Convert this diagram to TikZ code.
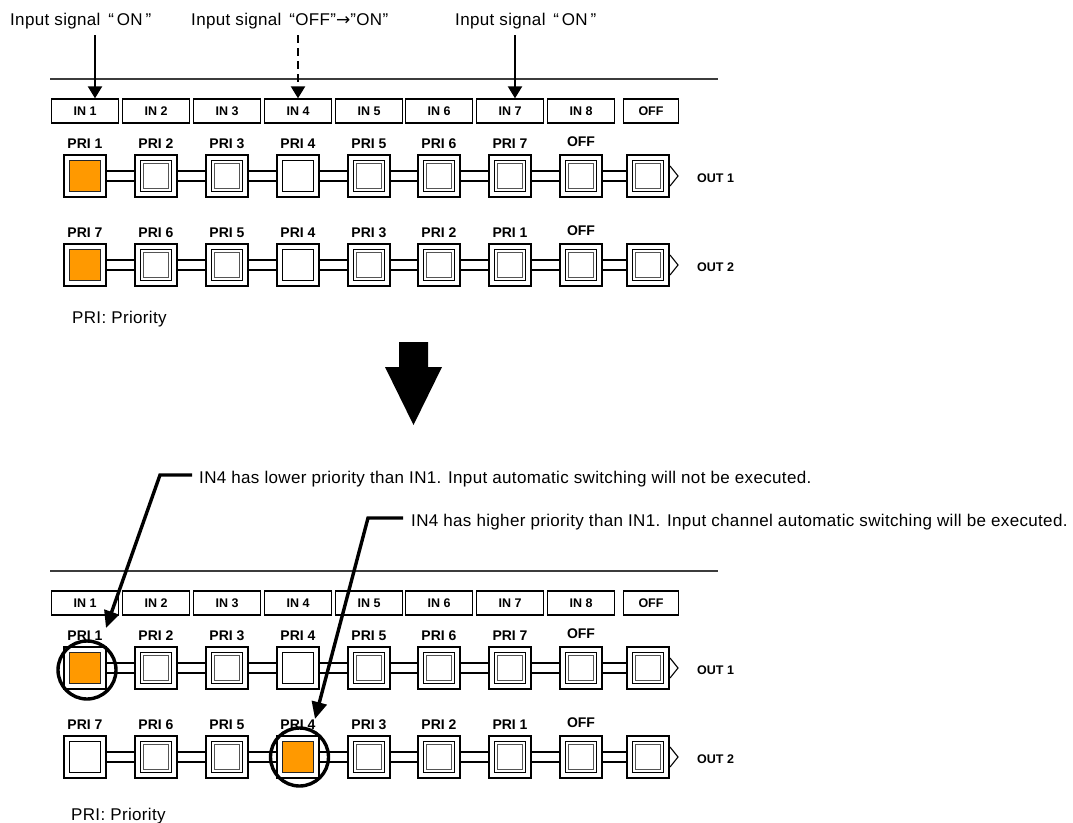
\documentclass[tikz,border=0pt]{standalone}
\usepackage{fontspec}
\setmainfont{Liberation Sans}[LetterSpace=2]
\newfontfamily\lblfont{Liberation Sans}
\newfontfamily\symfont{DejaVu Sans}
\usetikzlibrary{arrows.meta}
\definecolor{lit}{RGB}{255,153,0}
\definecolor{bevel}{RGB}{85,85,85}
\definecolor{rail}{RGB}{60,60,60}
\begin{document}
\begin{tikzpicture}[x=1pt,y=-1pt,
  txt/.style={font=\fontsize{17}{20}\selectfont, inner sep=0pt, anchor=base west},
  inbox/.style={draw, line width=1.3pt, minimum width=67pt, minimum height=24pt, inner sep=0pt,
    font=\lblfont\bfseries\fontsize{12.5}{14}\selectfont},
  btn/.style={draw, line width=2pt, fill=white, minimum size=42pt, inner sep=0pt},
  lampP/.style={draw, line width=1.2pt, fill=white, minimum size=31pt, inner sep=0pt},
  lampO/.style={draw=black!85, line width=1.5pt, fill=lit, minimum size=31pt, inner sep=0pt},
  lampN/.style={lampP, path picture={\draw[bevel, line width=1.8pt]
      ([shift={(3pt,3pt)}]path picture bounding box.south west) rectangle
      ([shift={(-3pt,-3pt)}]path picture bounding box.north east);}},
  prilbl/.style={inner sep=0pt, font=\lblfont\bfseries\fontsize{14}{16}\selectfont},
  outlbl/.style={inner sep=0pt, anchor=west, font=\lblfont\bfseries\fontsize{12.5}{14}\selectfont},
  barline/.style={line width=1.2pt},
  railline/.style={draw=rail, line width=1.5pt},
  sig/.style={line width=2.2pt, -{Triangle[length=12pt,width=14pt]}},
  leader/.style={line width=3.4pt, line join=miter, -{Triangle[length=17pt,width=15pt]}},
  ring/.style={circle, draw, line width=3.4pt, minimum size=58pt, inner sep=0pt}
]
\useasboundingbox (0,0) rectangle (1073,822);

% top annotations
\node[txt] (t-on1) at (10,25) {Input signal \,“\,ON\,”};
\node[txt] (t-off) at (191,25) {Input signal \,“OFF”{\symfont\fontsize{17}{20}\selectfont →}"ON”};
\node[txt] (t-on2) at (455,25) {Input signal \,“\,ON\,”};

\foreach \s/\dy in {0/0,1/492}{
  \draw[railline] (50,{79+\dy}) -- (718,{79+\dy});
  \foreach \x [count=\i] in {85,156,227,298,369,439,510,581}{
    \node[inbox] (in-\s-\i) at (\x,{111+\dy}) {IN \i};
  }
  \node[inbox, minimum width=55pt] (in-\s-off) at (651,{111+\dy}) {OFF};
  \foreach \r/\ry in {1/176,2/265}{
    \pgfmathtruncatemacro\yy{\ry+\dy}
    \ifnum\s\r=12 \def\lo{4}\def\lp{1}\else\def\lo{1}\def\lp{4}\fi
    \foreach \x [count=\i] in {85,156,227,298,369,439,510,581,648}{
      \node[btn] (b-\s-\r-\i) at (\x,\yy) {};
      \ifnum\i=\lo \node[lampO] (l-\s-\r-\i) at (b-\s-\r-\i.center) {};
      \else\ifnum\i=\lp \node[lampP] (l-\s-\r-\i) at (b-\s-\r-\i.center) {};
      \else \node[lampN] (l-\s-\r-\i) at (b-\s-\r-\i.center) {};
      \fi\fi
      \ifnum\i<8
        \pgfmathtruncatemacro\n{\r==1 ? \i : 8-\i}
        \node[prilbl] (p-\s-\r-\i) at ([yshift=32pt]b-\s-\r-\i.center) {PRI \n};
      \fi
    }
    \node[prilbl] (p-\s-\r-8) at ([yshift=34pt]b-\s-\r-8.center) {OFF};
    \foreach \i [evaluate=\i as \j using int(\i+1)] in {1,...,8}{
      \draw[barline] ([yshift=5pt]b-\s-\r-\i.east) -- ([yshift=5pt]b-\s-\r-\j.west);
      \draw[barline] ([yshift=-5pt]b-\s-\r-\i.east) -- ([yshift=-5pt]b-\s-\r-\j.west);
    }
    \draw[line width=1.1pt] ([yshift=10pt]b-\s-\r-9.east) -- ([xshift=8pt]b-\s-\r-9.east)
      -- ([yshift=-10pt]b-\s-\r-9.east);
    \node[outlbl] (out-\s-\r) at (697,{\yy+2}) {OUT \r};
  }
}

\node[txt] (pri-0) at (72,323) {PRI: Priority};
\node[txt] (pri-1) at (71,820) {PRI: Priority};

% input signal arrows
\coordinate (s1) at (95,35);
\coordinate (s2) at (298,35);
\coordinate (s3) at (515,35);
\draw[sig] (s1) -- (s1 |- in-0-1.north);
\draw[sig, dash pattern=on 8pt off 5pt] (s2) -- (s2 |- in-0-4.north);
\draw[sig] (s3) -- (s3 |- in-0-7.north);

% big down arrow
\fill (399,342) -- (428,342) -- (428,367) -- (442,367) -- (413.5,425) -- (385,367) -- (399,367) -- cycle;

% result annotations
\node[txt] (t-low) at (199,483) {IN4 has lower priority than IN1. Input automatic switching will not be executed.};
\node[txt] (t-high) at (411,526) {IN4 has higher priority than IN1. Input channel automatic switching will be executed.};
\node[ring] (c-1) at (87,670) {};
\node[ring] (c-2) at (299.5,757) {};
\coordinate (k1) at (160,475);
\coordinate (tip1) at (106,628);
\coordinate (k2) at (368,518);
\coordinate (tip2) at (315,719);
\draw[leader] ([shift={(-7pt,8pt)}]t-low.base west) -- (k1) -- (tip1);
\draw[leader] ([shift={(-8pt,8pt)}]t-high.base west) -- (k2) -- (tip2);
\end{tikzpicture}
\end{document}
